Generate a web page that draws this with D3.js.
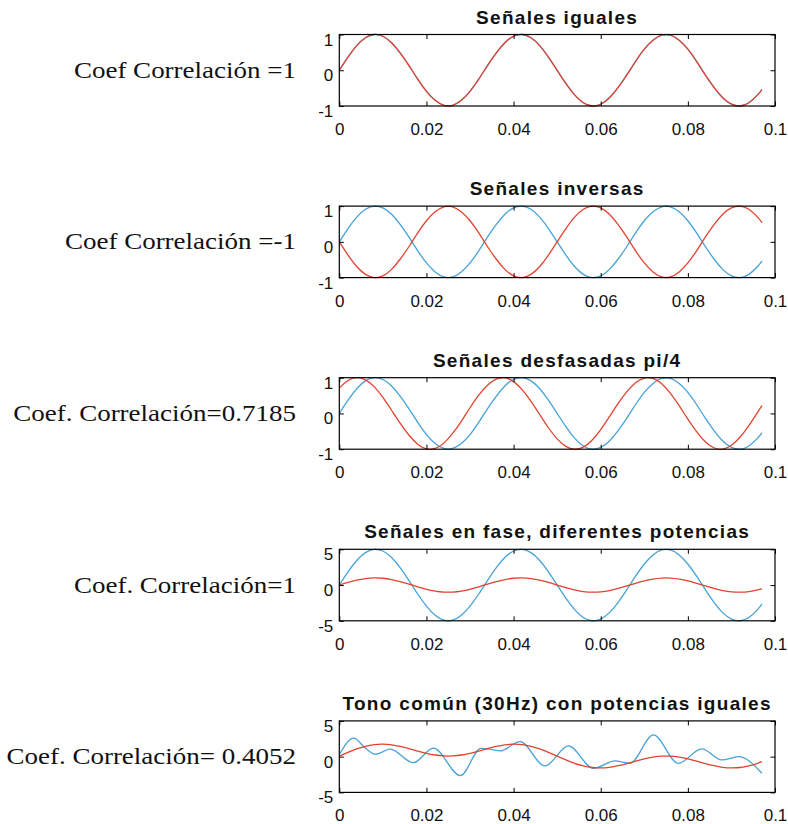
<!DOCTYPE html>
<html>
<head>
<meta charset="utf-8">
<script src="https://cdn.jsdelivr.net/npm/d3@7"></script>
<style>
  body { margin: 0; background: #fff; }
  svg { display: block; }
</style>
</head>
<body>
<div id="chart"></div>
<script>
// Page size
const width = 788;
const height = 824;

// Time samples (s)
const t = [0, 0.002, 0.004, 0.006, 0.008, 0.010, 0.012, 0.014, 0.016, 0.018,
    0.020, 0.022, 0.024, 0.026, 0.028, 0.030, 0.032, 0.034, 0.036, 0.038,
    0.040, 0.042, 0.044, 0.046, 0.048, 0.050, 0.052, 0.054, 0.056, 0.058,
    0.060, 0.062, 0.064, 0.066, 0.068, 0.070, 0.072, 0.074, 0.076, 0.078,
    0.080, 0.082, 0.084, 0.086, 0.088, 0.090, 0.092, 0.094, 0.096, 0.097];

// 30 Hz tone, unit amplitude
const tone = [0, 0.37, 0.69, 0.91, 1.00, 0.95, 0.77, 0.48, 0.13, -0.25,
    -0.59, -0.84, -0.98, -0.98, -0.84, -0.59, -0.25, 0.13, 0.48, 0.77,
    0.95, 1.00, 0.91, 0.69, 0.37, 0, -0.37, -0.69, -0.91, -1.00,
    -0.95, -0.77, -0.48, -0.13, 0.25, 0.59, 0.84, 0.98, 0.98, 0.84,
    0.59, 0.25, -0.13, -0.48, -0.77, -0.95, -1.00, -0.91, -0.69, -0.54];

// Inverted tone
const toneInv = [0, -0.37, -0.69, -0.91, -1.00, -0.95, -0.77, -0.48, -0.13, 0.25,
    0.59, 0.84, 0.98, 0.98, 0.84, 0.59, 0.25, -0.13, -0.48, -0.77,
    -0.95, -1.00, -0.91, -0.69, -0.37, 0, 0.37, 0.69, 0.91, 1.00,
    0.95, 0.77, 0.48, 0.13, -0.25, -0.59, -0.84, -0.98, -0.98, -0.84,
    -0.59, -0.25, 0.13, 0.48, 0.77, 0.95, 1.00, 0.91, 0.69, 0.54];

// Tone shifted by pi/4
const toneShift = [0.71, 0.92, 1.00, 0.94, 0.75, 0.45, 0.09, -0.28, -0.61, -0.86,
    -0.99, -0.98, -0.83, -0.56, -0.22, 0.16, 0.51, 0.79, 0.96, 1.00,
    0.89, 0.66, 0.34, -0.03, -0.40, -0.71, -0.92, -1.00, -0.94, -0.75,
    -0.45, -0.09, 0.28, 0.61, 0.86, 0.99, 0.98, 0.83, 0.56, 0.22,
    -0.16, -0.51, -0.79, -0.96, -1.00, -0.89, -0.66, -0.34, 0.03, 0.22];

// Tone with amplitude 5
const toneBig = [0, 1.84, 3.43, 4.53, 4.99, 4.76, 3.86, 2.41, 0.63, -1.25,
    -2.94, -4.22, -4.91, -4.91, -4.22, -2.94, -1.25, 0.63, 2.41, 3.86,
    4.76, 4.99, 4.53, 3.43, 1.84, 0, -1.84, -3.43, -4.53, -4.99,
    -4.76, -3.86, -2.41, -0.63, 1.25, 2.94, 4.22, 4.91, 4.91, 4.22,
    2.94, 1.25, -0.63, -2.41, -3.86, -4.76, -4.99, -4.53, -3.43, -2.68];

// Last panel, red signal
const mixRed = [0.08, 0.61, 1.09, 1.45, 1.68, 1.74, 1.65, 1.43, 1.13, 0.79,
    0.47, 0.23, 0.10, 0.10, 0.23, 0.47, 0.79, 1.13, 1.43, 1.65,
    1.74, 1.68, 1.45, 1.09, 0.61, 0.08, -0.45, -0.93, -1.29, -1.52,
    -1.58, -1.49, -1.27, -0.97, -0.63, -0.31, -0.07, 0.06, 0.06, -0.07,
    -0.31, -0.63, -0.97, -1.27, -1.49, -1.58, -1.52, -1.29, -0.93, -0.70];

// Last panel, blue signal (read at its turning points)
const mixBlueT = [0, 0.0033, 0.006, 0.0083, 0.0117, 0.017, 0.0216, 0.0278, 0.0325, 0.0345,
    0.0369, 0.0415, 0.0472, 0.0526, 0.0583, 0.0633, 0.0667, 0.0721, 0.0778, 0.0832,
    0.0878, 0.0916, 0.097];
const mixBlue = [0.3, 2.58, 1.18, 0.34, 1.04, -0.84, 1.18, -2.66, 1.15, 1.05,
    0.8, 2.1, -1.3, 1.5, -1.63, -0.6, -0.93, 3.04, -0.93, 1.08,
    -0.46, 0.0, -2.33];

// Texts and ticks
const titles = ["Señales iguales", "Señales inversas", "Señales desfasadas pi/4",
    "Señales en fase, diferentes potencias", "Tono común (30Hz) con potencias iguales"];
const coefLabels = ["Coef Correlación =1", "Coef Correlación =-1", "Coef. Correlación=0.7185",
    "Coef. Correlación=1", "Coef. Correlación= 0.4052"];
const xTicks = [0, 0.02, 0.04, 0.06, 0.08, 0.1];
const xTickLabels = ["0", "0.02", "0.04", "0.06", "0.08", "0.1"];
const yTicksSmall = [-1, 0, 1];
const yTicksLarge = [-5, 0, 5];

const blue = "#45a3d8";
const red = "#e2432e";

// Panels built from the arrays above
const panels = [
    { yTicks: yTicksSmall, series: [ {x: t, y: tone, color: blue}, {x: t, y: tone, color: red} ] },
    { yTicks: yTicksSmall, series: [ {x: t, y: tone, color: blue}, {x: t, y: toneInv, color: red} ] },
    { yTicks: yTicksSmall, series: [ {x: t, y: tone, color: blue}, {x: t, y: toneShift, color: red} ] },
    { yTicks: yTicksLarge, series: [ {x: t, y: toneBig, color: blue}, {x: t, y: tone, color: red} ] },
    { yTicks: yTicksLarge, series: [ {x: mixBlueT, y: mixBlue, color: blue, curve: d3.curveMonotoneX}, {x: t, y: mixRed, color: red} ] }
];

// Layout
const left = 339.3, right = 775;
const top0 = 34.5, step = 171.6, boxH = 71.5;
const tickLen = 4.5;
const sans = "'Liberation Sans', Arial, Helvetica, sans-serif";

const svg = d3.select("#chart")
    .append("svg")
    .attr("width", width)
    .attr("height", height)
    .style("background", "#fff");

const x = d3.scaleLinear().domain([0, 0.1]).range([left, right]);

panels.forEach((p, i) => {
    const top = top0 + i * step;
    const bottom = top + boxH;
    const y = d3.scaleLinear()
        .domain([p.yTicks[0], p.yTicks[2]])
        .range([bottom, top]);

    const g = svg.append("g");

    // signals
    p.series.forEach(s => {
        const pts = s.x.map((v, k) => [v, s.y[k]]);
        g.append("path")
            .datum(pts)
            .attr("fill", "none")
            .attr("stroke", s.color)
            .attr("stroke-width", 1.3)
            .attr("d", d3.line()
                .x(d => x(d[0]))
                .y(d => y(d[1]))
                .curve(s.curve || d3.curveNatural));
    });

    // bottom axis with labels
    const xb = g.append("g")
        .attr("transform", `translate(0,${bottom})`)
        .call(d3.axisBottom(x).tickValues(xTicks)
            .tickFormat((d, k) => xTickLabels[k])
            .tickSizeInner(-tickLen).tickSizeOuter(0).tickPadding(17));
    // top ticks
    const xt = g.append("g")
        .attr("transform", `translate(0,${top})`)
        .call(d3.axisTop(x).tickValues(xTicks).tickFormat("")
            .tickSizeInner(-tickLen).tickSizeOuter(0));
    // left axis with labels (plain hyphen for negatives)
    const yl = g.append("g")
        .attr("transform", `translate(${left},0)`)
        .call(d3.axisLeft(y).tickValues(p.yTicks).tickFormat(d => String(d))
            .tickSizeInner(-tickLen).tickSizeOuter(0).tickPadding(6));
    // right ticks
    const yr = g.append("g")
        .attr("transform", `translate(${right},0)`)
        .call(d3.axisRight(y).tickValues(p.yTicks).tickFormat("")
            .tickSizeInner(-tickLen).tickSizeOuter(0));

    [xb, xt, yl, yr].forEach(a => {
        a.select(".domain").remove();
        a.selectAll("line").attr("stroke", "#000").attr("stroke-width", 1);
        a.selectAll("text")
            .attr("fill", "#111")
            .style("font-family", sans)
            .style("font-size", "17px");
    });
    yl.selectAll("text").attr("dy", "0.62em");

    // box
    g.append("rect")
        .attr("x", left)
        .attr("y", top)
        .attr("width", right - left)
        .attr("height", boxH)
        .attr("fill", "none")
        .attr("stroke", "#000")
        .attr("stroke-width", 1.2);

    // title
    g.append("text")
        .attr("x", (left + right) / 2)
        .attr("y", top - 11)
        .attr("text-anchor", "middle")
        .style("font-family", sans)
        .style("font-weight", "bold")
        .style("font-size", "19px")
        .style("letter-spacing", "1.3px")
        .attr("fill", "#111")
        .text(titles[i]);

    // correlation text at the left
    g.append("text")
        .attr("transform", `translate(296,${(top + bottom) / 2 + 7.5}) scale(1.2,1)`)
        .attr("text-anchor", "end")
        .style("font-family", "'Liberation Serif', 'Times New Roman', serif")
        .style("font-size", "22.5px")
        .attr("fill", "#111")
        .text(coefLabels[i]);
});
</script>
</body>
</html>
